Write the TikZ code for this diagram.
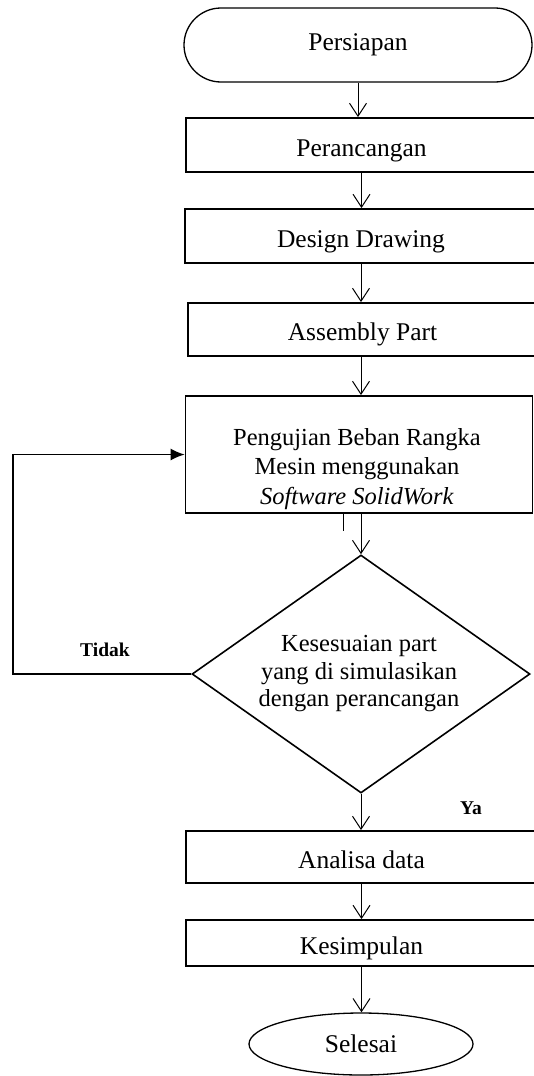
\documentclass[tikz,border=0pt]{standalone}
\usepackage{fontspec}
\setmainfont{Liberation Serif}
\usetikzlibrary{shapes.geometric,arrows.meta,calc}
\begin{document}
\begin{tikzpicture}[x=1pt,y=-1pt,
  box/.style={draw,line width=1.8pt,minimum width=351pt,inner sep=0pt,text height=22pt,text depth=0pt,font=\fontsize{25.5}{30}\selectfont},
  term/.style={draw,line width=1.3pt,inner sep=0pt,font=\fontsize{25.5}{30}\selectfont},
  multi/.style={align=center,inner sep=0pt},
  arr/.style={line width=1pt,-{Straight Barb[length=13pt,width=17pt,line width=1pt]}},
  looparr/.style={line width=1.4pt,-{Latex[length=14pt,width=12pt]}},
  lab/.style={font=\fontsize{19.5}{22}\selectfont\bfseries,inner sep=0pt}
]
\useasboundingbox (0,0) rectangle (534,1076);

\node[term,rounded corners=37pt,minimum width=348pt,minimum height=74pt] (pers) at (358,45) {Persiapan};
\node[box,minimum height=54pt] (pera) at (361.5,145) {Perancangan};
\node[box,minimum height=54pt,minimum width=352pt] (desg) at (361,236) {Design Drawing};
\node[box,minimum height=53pt,minimum width=349pt] (asm) at (362.5,329.5) {Assembly Part};
\node[draw,line width=1.8pt,minimum width=347pt,minimum height=117pt,inner sep=0pt] (peng) at (359,454.5) {};
\node[multi,font=\fontsize{24.5}{29.5}\selectfont] (pengtext) at (357,469)
  {Pengujian Beban Rangka\\Mesin menggunakan\\\textit{Software SolidWork}};
\node[draw,diamond,line width=1.6pt,minimum width=338pt,minimum height=238pt,inner sep=0pt] (dia) at (361,674) {};
\node[multi,font=\fontsize{24.5}{27.5}\selectfont] (diatext) at (359,674)
  {Kesesuaian part\\yang di simulasikan\\dengan perancangan};
\node[box,minimum height=52pt] (ana) at (361.5,857) {Analisa data};
\node[box,minimum height=46pt] (kes) at (361.5,943) {Kesimpulan};
\node[term,ellipse,minimum width=224pt,minimum height=62pt] (sel) at (361,1044) {Selesai};

\node[lab] (tidak) at (105,650) {Tidak};
\node[lab] (ya) at (471,808) {Ya};

\draw[arr] (pers.south) -- (pers.south |- pera.north);
\draw[arr] (pera.south) -- (pera.south |- desg.north);
\draw[arr] (desg.south) -- (desg.south |- asm.north);
\draw[arr] (dia.north |- asm.south) -- (dia.north |- peng.north);
\draw[arr] (dia.north |- peng.south) -- (dia.north);
\draw[line width=1pt] ($(peng.south)+(-16,0)$) -- ++(0,17);
\draw[arr] (dia.south) -- (dia.south |- ana.north);
\draw[arr] (ana.south) -- (ana.south |- kes.north);
\draw[arr] (kes.south) -- (kes.south |- sel.north);

\coordinate (lp) at (13,672);
\draw[looparr] (dia.west) -- (dia.west -| lp) -- (lp |- peng.west) -- (peng.west);
\end{tikzpicture}
\end{document}
